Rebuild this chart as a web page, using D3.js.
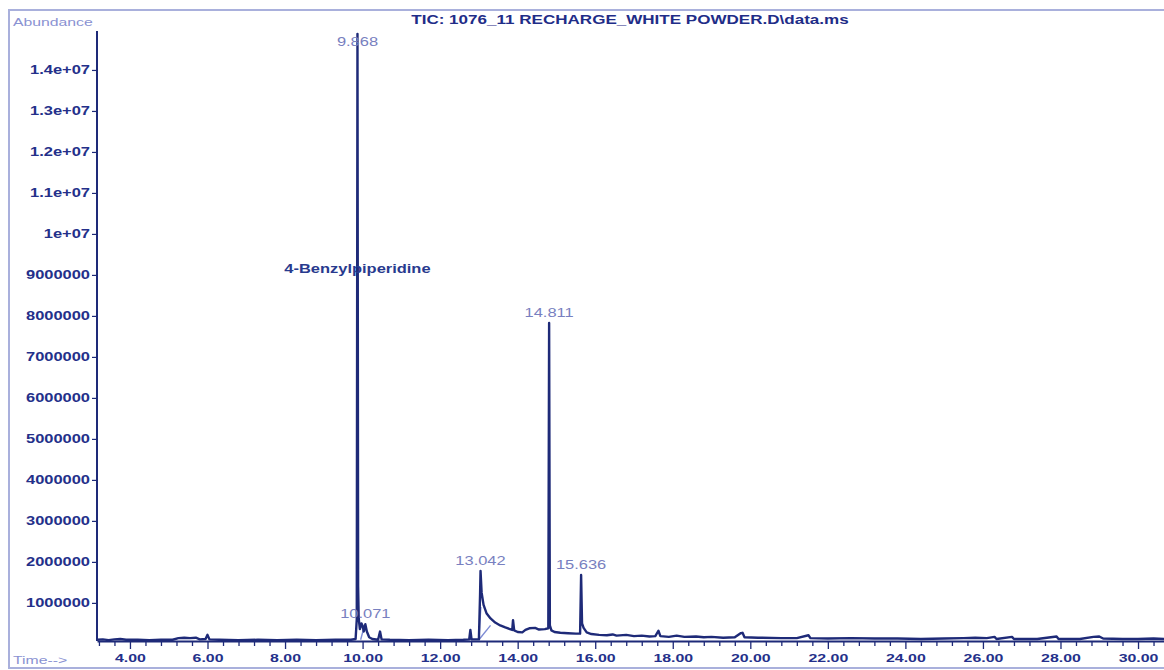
<!DOCTYPE html>
<html>
<head>
<meta charset="utf-8">
<script src="https://cdn.jsdelivr.net/npm/d3@7/dist/d3.min.js"></script>
<style>
  html, body { margin: 0; padding: 0; background: #fff; }
  svg { display: block; }
  text { font-family: "Liberation Sans", Arial, Helvetica, sans-serif; }
</style>
</head>
<body>
<svg id="chart" width="1164" height="670"></svg>
<script>
// Total ion chromatogram: retention time (min) vs abundance
const traceTime = [
  3.15, 3.3, 3.45, 3.6, 3.75, 3.9, 4.2, 4.5, 4.8, 5.1, 5.25, 5.4, 5.55, 5.7, 5.8, 5.95, 6.0, 6.05,
  6.3, 6.8, 7.3, 7.8, 8.3, 8.8, 9.3, 9.7, 9.82, 9.85, 9.868, 9.885, 9.90, 9.93, 9.97, 10.0, 10.03,
  10.071, 10.11, 10.17, 10.25, 10.4, 10.45, 10.49, 10.7, 11.2, 11.7, 12.2, 12.6, 12.75, 12.78, 12.81,
  13.0, 13.03, 13.042, 13.07, 13.12, 13.2, 13.3, 13.42, 13.55, 13.68, 13.8, 13.86, 13.88, 13.91,
  14.0, 14.12, 14.2, 14.3, 14.45, 14.55, 14.7, 14.79, 14.811, 14.83, 14.87, 14.95, 15.1, 15.3, 15.5,
  15.61, 15.636, 15.66, 15.7, 15.78, 15.9, 16.1, 16.3, 16.45, 16.55, 16.8, 17.0, 17.2, 17.4, 17.55,
  17.63, 17.68, 17.9, 18.1, 18.3, 18.6, 18.8, 19.0, 19.3, 19.6, 19.75, 19.8, 19.85, 20.2, 20.8, 21.2,
  21.5, 21.55, 22.0, 22.6, 23.2, 23.8, 24.4, 25.0, 25.5, 25.8, 26.1, 26.3, 26.35, 26.75, 26.8, 27.4,
  27.9, 27.95, 28.5, 28.85, 29.0, 29.1, 29.6, 30.0, 30.4, 30.67
];
const traceAbundance = [
  100000, 110000, 90000, 110000, 120000, 100000, 100000, 90000, 100000, 100000, 140000, 150000, 140000, 150000, 110000, 120000, 220000, 110000,
  100000, 90000, 100000, 90000, 100000, 90000, 100000, 100000, 120000, 600000, 14880000, 1400000, 620000, 360000, 500000, 440000, 300000,
  480000, 300000, 160000, 120000, 100000, 300000, 110000, 100000, 90000, 100000, 90000, 100000, 110000, 340000, 110000,
  110000, 1200000, 1780000, 1250000, 950000, 740000, 620000, 520000, 450000, 400000, 360000, 340000, 580000, 330000,
  290000, 280000, 340000, 380000, 390000, 350000, 360000, 380000, 7830000, 450000, 330000, 290000, 270000, 260000, 250000,
  250000, 1680000, 500000, 390000, 280000, 240000, 220000, 210000, 230000, 200000, 220000, 190000, 200000, 180000, 190000,
  320000, 190000, 170000, 200000, 170000, 180000, 160000, 170000, 150000, 160000, 260000, 270000, 160000, 150000, 140000, 140000,
  210000, 140000, 130000, 140000, 130000, 130000, 120000, 130000, 140000, 150000, 140000, 170000, 120000, 170000, 120000, 120000,
  180000, 120000, 120000, 170000, 180000, 130000, 120000, 120000, 130000, 120000
];

// Labelled peaks (retention times)
const peakTimes = [9.868, 10.071, 13.042, 14.811, 15.636];

// Integration baselines drawn under the peaks
const integrationSegments = [
  [[9.95, 100000], [10.05, 450000]],
  [[13.0, 100000], [13.05, 900000]],
  [[13.0, 100000], [13.3, 450000]]
];

// Compound identification
const compoundName = "4-Benzylpiperidine";
const compoundTime = 9.868;
const compoundLevel = 9050000;

// Axis ticks
const yTickValues = [1000000, 2000000, 3000000, 4000000, 5000000, 6000000, 7000000, 8000000, 9000000, 10000000, 11000000, 12000000, 13000000, 14000000];
const yTickLabels = ["1000000", "2000000", "3000000", "4000000", "5000000", "6000000", "7000000", "8000000", "9000000", "1e+07", "1.1e+07", "1.2e+07", "1.3e+07", "1.4e+07"];
const xMajorTicks = [4, 6, 8, 10, 12, 14, 16, 18, 20, 22, 24, 26, 28, 30];
const xMinorStep = 0.4;

const titleText = "TIC: 1076_11 RECHARGE_WHITE POWDER.D\\data.ms";

// ---- layout ----
const NAVY = "#1e2a78";
const LABEL_NAVY = "#24308a";
const RT_COLOR = "#7880c0";
const SOFT = "#8a92d2";
const STRETCH = 1.37;  // horizontal text stretch of the printout

const svg = d3.select("#chart");
const plotLeft = 97, plotRight = 1164, plotBottom = 641, plotTop = 31;

const x = d3.scaleLinear().domain([3.15, 30.67]).range([plotLeft, plotRight]);
const y = d3.scaleLinear().domain([70000, 14950000]).range([plotBottom, plotTop]);

function stretch(sel, k = STRETCH) {
  sel.each(function () {
    const len = this.getComputedTextLength();
    d3.select(this).attr("textLength", len * k).attr("lengthAdjust", "spacingAndGlyphs");
  });
}

// page frame
svg.append("rect")
  .attr("x", 9).attr("y", 10).attr("width", 1180).attr("height", 658)
  .attr("fill", "none").attr("stroke", "#a9b0dc").attr("stroke-width", 2);

// title
svg.append("text")
  .attr("x", 630).attr("y", 24)
  .attr("text-anchor", "middle")
  .attr("font-size", 12).attr("font-weight", "bold")
  .attr("fill", "#1f2d88")
  .text(titleText)
  .call(stretch, 1.42);

// axis captions
svg.append("text")
  .attr("x", 13).attr("y", 26)
  .attr("font-size", 11.5).attr("fill", SOFT)
  .text("Abundance").call(stretch);
svg.append("text")
  .attr("x", 13).attr("y", 664)
  .attr("font-size", 11.5).attr("fill", SOFT)
  .text("Time-->").call(stretch);

// y axis
const yAxis = d3.axisLeft(y)
  .tickValues(yTickValues)
  .tickFormat((d, i) => yTickLabels[i])
  .tickSize(5).tickSizeOuter(0).tickPadding(2);
const gy = svg.append("g").attr("transform", `translate(${plotLeft},0)`).call(yAxis);
gy.select(".domain").attr("stroke", NAVY).attr("stroke-width", 2)
  .attr("d", `M0,${plotBottom}V${plotTop}`);
gy.selectAll(".tick line").attr("stroke", NAVY).attr("stroke-width", 1.2);
gy.selectAll(".tick text")
  .attr("font-size", 12).attr("font-weight", "bold").attr("fill", LABEL_NAVY)
  .attr("font-family", "Liberation Sans, Arial, sans-serif")
  .call(stretch);

// x axis: minor ticks every 0.4 min, labelled ticks every 2 min
const minorTicks = d3.range(3.2, 30.67, xMinorStep).map(v => +v.toFixed(2))
  .filter(v => !xMajorTicks.some(m => Math.abs(m - v) < 1e-6));
const gx = svg.append("g").attr("transform", `translate(0,${plotBottom})`);
gx.append("g").call(d3.axisBottom(x).tickValues(minorTicks).tickSize(5).tickFormat(""))
  .call(g => g.select(".domain").remove())
  .selectAll(".tick line").attr("stroke", NAVY).attr("stroke-width", 1.3);
const gxMajor = gx.append("g").call(d3.axisBottom(x).tickValues(xMajorTicks).tickSize(8).tickSizeOuter(0)
  .tickFormat(d3.format(".2f")).tickPadding(5));
gxMajor.select(".domain").attr("stroke", NAVY).attr("stroke-width", 2);
gxMajor.selectAll(".tick line").attr("stroke", NAVY).attr("stroke-width", 1.3);
gxMajor.selectAll(".tick text")
  .attr("font-size", 11.6).attr("font-weight", "bold").attr("fill", LABEL_NAVY)
  .attr("font-family", "Liberation Sans, Arial, sans-serif")
  .call(stretch);

// integration baselines
const seg = d3.line().x(d => x(d[0])).y(d => y(d[1]));
svg.append("g").selectAll("path").data(integrationSegments).join("path")
  .attr("d", seg).attr("fill", "none")
  .attr("stroke", "#7d8bd4").attr("stroke-width", 1.4);

// chromatogram trace
const trace = traceTime.map((t, i) => [t, traceAbundance[i]]);
svg.append("path")
  .datum(trace)
  .attr("d", d3.line().x(d => x(d[0])).y(d => y(d[1])))
  .attr("fill", "none")
  .attr("stroke", NAVY)
  .attr("stroke-width", 2.4)
  .attr("stroke-linejoin", "round");

// retention time labels above each labelled peak
const peakValue = t => traceAbundance[traceTime.indexOf(t)];
svg.append("g").selectAll("text").data(peakTimes).join("text")
  .attr("x", d => x(d))
  .attr("y", d => Math.max(y(peakValue(d)) - 6, 46))
  .attr("text-anchor", "middle")
  .attr("font-size", 12)
  .attr("fill", RT_COLOR)
  .text(d => d.toFixed(3))
  .call(stretch);

// compound name
svg.append("text")
  .attr("x", x(compoundTime)).attr("y", y(compoundLevel))
  .attr("text-anchor", "middle")
  .attr("font-size", 12).attr("font-weight", "bold")
  .attr("fill", "#283a8e")
  .text(compoundName)
  .call(stretch);
</script>
</body>
</html>
